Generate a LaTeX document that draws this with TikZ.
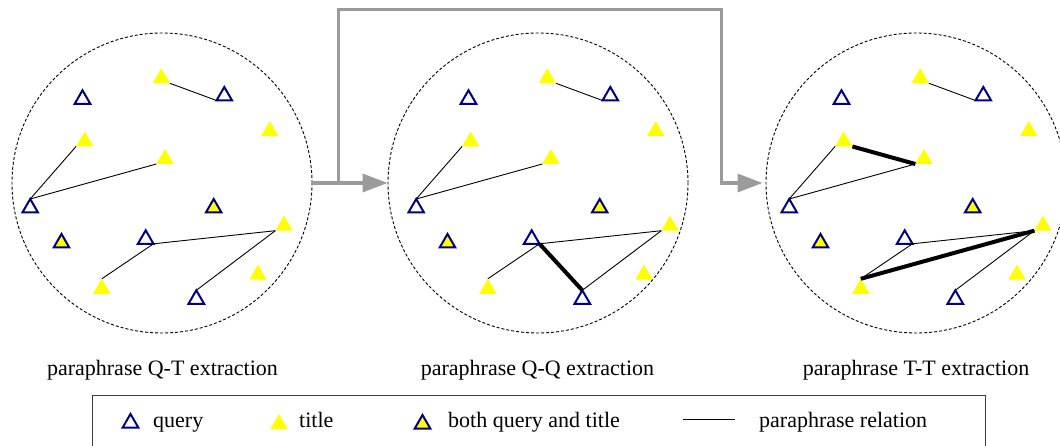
\documentclass[tikz,border=0pt]{standalone}
\usepackage{fontspec}
\setmainfont{Liberation Serif}
\usetikzlibrary{shapes.geometric,arrows.meta}
\definecolor{qblue}{RGB}{0,0,130}
\definecolor{tyellow}{RGB}{255,255,0}
\definecolor{arrgray}{RGB}{155,155,155}
\definecolor{boxgray}{RGB}{60,60,60}
\begin{document}
\begin{tikzpicture}[x=1pt,y=-1pt,
 tri/.style={regular polygon, regular polygon sides=3, inner sep=0pt, outer sep=0pt},
 qry/.style={tri, draw=qblue, line width=2pt, minimum size=18pt},
 ttl/.style={tri, fill=tyellow, minimum size=20pt},
 bth/.style={tri, draw=qblue, fill=tyellow, line width=2pt, minimum size=18pt},
 rel/.style={draw=black, line width=0.9pt},
 strong/.style={draw=black, line width=4pt},
 cloud/.style={circle, draw, dash pattern=on 3pt off 2pt, line width=0.9pt, minimum size=300pt, inner sep=0pt},
 flow/.style={draw=arrgray, line width=3.3pt, -{Triangle[length=25pt,width=18pt]}},
 txt/.style={font=\fontsize{22}{26}\selectfont, inner sep=0pt},
]
\useasboundingbox (0,0) rectangle (1060,446);

% clouds
\node[cloud] (cA) at (162,183) {};
\node[cloud] (cB) at (538,183) {};
\node[cloud] (cC) at (916,183) {};

\foreach \p/\dx in {a/0,b/386,c/759}{
\begin{scope}[xshift=\dx]
 \node[qry] (\p q1) at (82.5,99.3) {};
 \node[qry] (\p q2) at (224.3,96) {};
 \node[qry] (\p q3) at (30.2,208) {};
 \node[qry] (\p q4) at (145.7,239.3) {};
 \node[qry] (\p q5) at (196.3,299.3) {};
 \node[bth] (\p b1) at (213.7,208) {};
 \node[bth] (\p b2) at (61.5,243) {};
 \node[ttl] (\p t1) at (161.3,78.3) {};
 \node[ttl] (\p t2) at (84.7,141.5) {};
 \node[ttl] (\p t3) at (269.8,131) {};
 \node[ttl] (\p t4) at (165,159) {};
 \node[ttl] (\p t5) at (284,225.7) {};
 \node[ttl] (\p t6) at (258,274.7) {};
 \node[ttl] (\p t7) at (101.8,288.8) {};
 \draw[rel] (\p t1.corner 3) -- (\p q2.corner 2);
 \draw[rel] (\p q3.corner 1) -- (\p t2.corner 2);
 \draw[rel] (\p q3.corner 1) -- (\p t4.corner 2);
 \draw[rel] (\p q4.corner 3) -- (\p t5.corner 2);
 \draw[rel] (\p q4.corner 3) -- (\p t7.corner 1);
 \draw[rel] (\p q5.corner 1) -- (\p t5.corner 2);
\end{scope}
}

% highlighted relations
\draw[strong] (bq4.corner 3) -- (bq5.corner 1);
\draw[strong] (ct2.corner 3) -- (ct4.corner 2);
\draw[strong] (ct7.corner 1) -- (ct5.corner 2);

% gray flow arrows
\coordinate (j) at (338.3,183);
\coordinate (up1) at (338.3,9.3);
\coordinate (up2) at (721.7,9.3);
\coordinate (dn) at (721.7,183);
\draw[flow] (cA.east) -- (cB.west);
\draw[flow, shorten >=3pt] (j) -- (up1) -- (up2) -- (dn) -- (cC.west);

% captions
\node[txt, anchor=base] (lA) at (162.5,375) {paraphrase Q-T extraction};
\node[txt, anchor=base] (lB) at (537.5,375) {paraphrase Q-Q extraction};
\node[txt, anchor=base] (lC) at (916,375) {paraphrase T-T extraction};

% legend
\node[draw=boxgray, line width=1pt, anchor=north west, minimum width=893.3pt, minimum height=60pt, inner sep=0pt] (legend) at (91.7,394.7) {};
\node[qry] (lgq) at (130.5,423) {};
\node[txt, anchor=base west] (lgqt) at (153,427) {query};
\node[ttl] (lgt) at (279,424) {};
\node[txt, anchor=base west] (lgtt) at (299,427) {title};
\node[bth] (lgb) at (422.5,424) {};
\node[txt, anchor=base west] (lgbt) at (448,427) {both query and title};
\coordinate (ls) at (683,419);
\coordinate (le) at (735,419);
\draw[rel] (ls) -- (le);
\node[txt, anchor=base west] (lgrt) at (759,427) {paraphrase relation};
\end{tikzpicture}
\end{document}
